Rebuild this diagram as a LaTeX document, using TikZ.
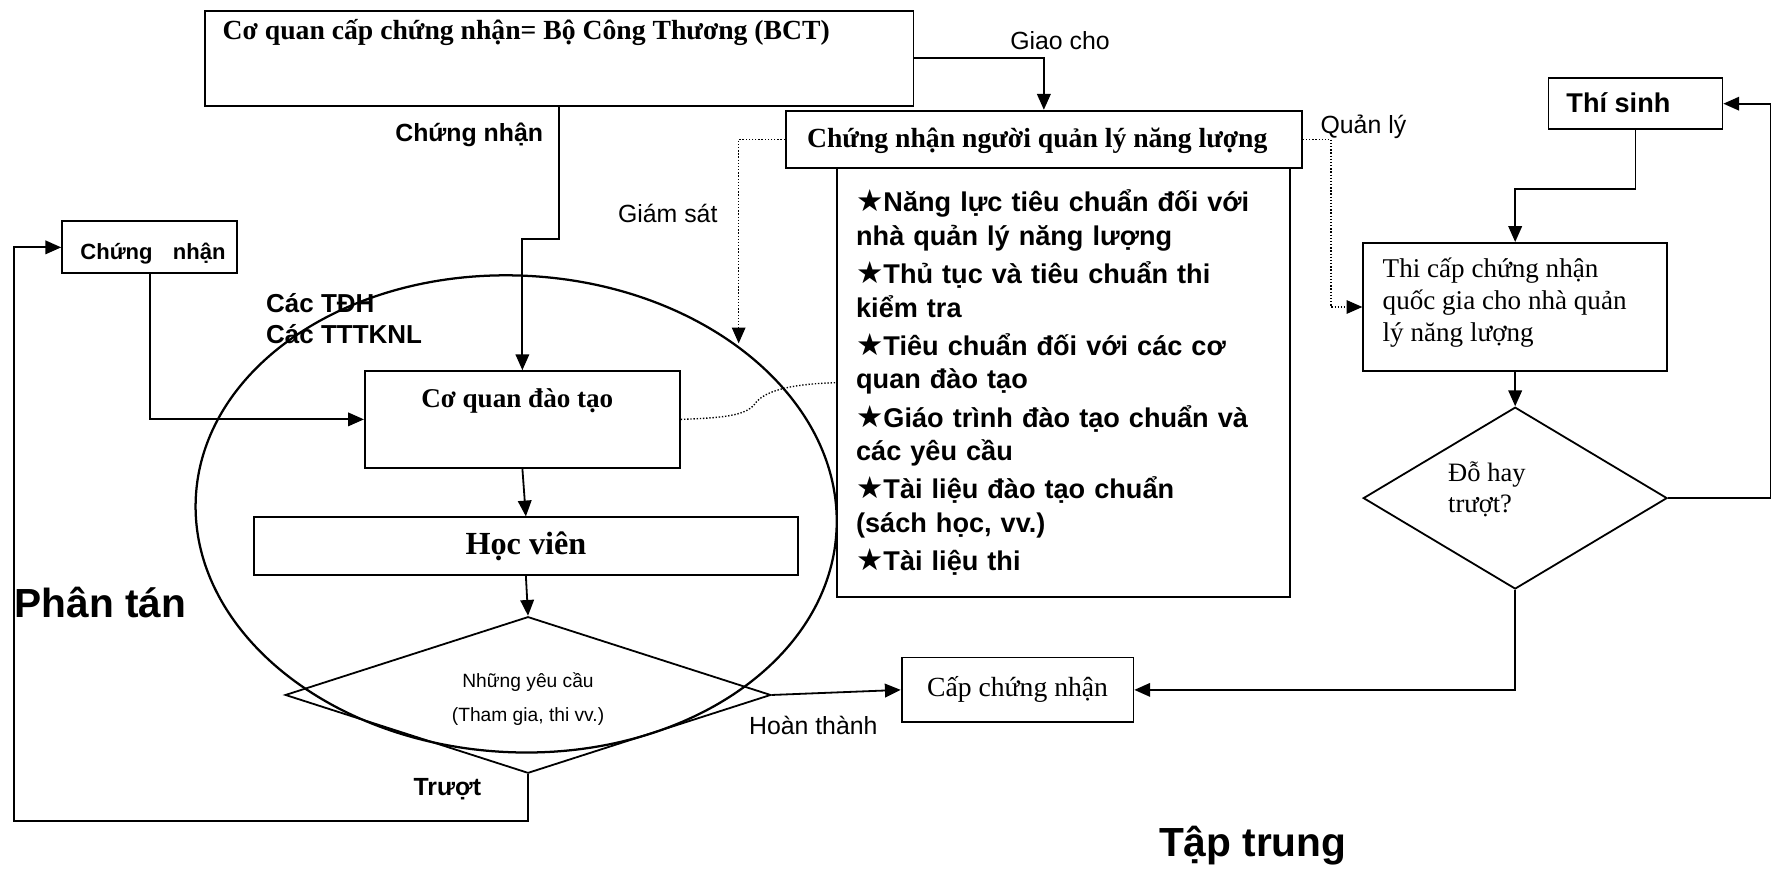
\documentclass[tikz,border=0pt]{standalone}
\usepackage{fontspec}
\setmainfont{Liberation Serif}
\setsansfont{Liberation Sans}
\newfontfamily\starfont{DejaVu Sans}
\usetikzlibrary{arrows.meta,shapes.geometric}
\newcommand{\bstar}{{\starfont\fontsize{27}{29.6}\selectfont ★}}
\begin{document}
\begin{tikzpicture}[x=1pt,y=-1pt,
    box/.style={draw,line width=1.6pt,inner sep=0pt},
    dmd/.style={draw,diamond,line width=1.6pt,inner sep=0pt},
    arr/.style={line width=1.6pt,-{Triangle[length=14pt,width=12pt]}},
    dotline/.style={line width=1.2pt,dash pattern=on 1.2pt off 1.6pt},
    dotarr/.style={dotline,-{Triangle[length=14pt,width=12pt]}},
    lbl/.style={font=\sffamily\fontsize{22}{26}\selectfont,inner sep=0pt},
    blbl/.style={font=\sffamily\bfseries\fontsize{22}{26}\selectfont,inner sep=0pt},
    big/.style={font=\sffamily\bfseries\fontsize{36}{40}\selectfont,inner sep=0pt}]
  \useasboundingbox (0,0) rectangle (1568,769);
  % the ministry and the certificate
  \node[box,minimum width=627.3,minimum height=84.3] (bct) at (495.2,51.7) {};
  \node[anchor=base west,inner sep=0pt,font=\bfseries\fontsize{24.5}{28}\selectfont] (bcttxt)
    at (197,35) {Cơ quan cấp chứng nhận= Bộ Công Thương (BCT)};
  \node[box,minimum width=456.9,minimum height=51] (cnql) at (924.2,123.5) {};
  \node[anchor=base,inner sep=0pt,font=\bfseries\fontsize{24.5}{28}\selectfont] (cnqltxt)
    at (918.4,131) {Chứng nhận người quản lý năng lượng};
  \node[box,minimum width=401,minimum height=379.6,text width=367,align=left,
    font=\sffamily\bfseries\fontsize{24}{29.6}\selectfont] (list) at (941.5,338.8)
    {\bstar Năng lực tiêu chuẩn đối với\\ nhà quản lý năng lượng\\[4.3pt]
     \bstar Thủ tục và tiêu chuẩn thi\\ kiểm tra\\[4.3pt]
     \bstar Tiêu chuẩn đối với các cơ\\ quan đào tạo\\[4.3pt]
     \bstar Giáo trình đào tạo chuẩn và\\ các yêu cầu\\[4.3pt]
     \bstar Tài liệu đào tạo chuẩn\\ (sách học, vv.)\\[4.3pt]
     \bstar Tài liệu thi};
  % the national exam (right)
  \node[box,minimum width=154,minimum height=45.5] (thisinh) at (1448,91.8) {};
  \node[anchor=base west,inner sep=0pt,font=\sffamily\bfseries\fontsize{24}{28}\selectfont] (thisinhtxt)
    at (1386.7,100) {Thí sinh};
  \node[box,minimum width=269,minimum height=113.5] (thi) at (1341.5,271.8) {};
  \node[anchor=base west,align=left,inner sep=0pt,font=\fontsize{24}{28.3}\selectfont] (thitxt)
    at (1224,302.6) {Thi cấp chứng nhận\\ quốc gia cho nhà quản\\ lý năng lượng};
  \node[dmd,minimum width=269,minimum height=161] (dohay) at (1341.5,441) {};
  \node[anchor=base west,align=left,inner sep=0pt,font=\fontsize{23.5}{27}\selectfont] (dohaytxt)
    at (1282,453.7) {Đỗ hay\\ trượt?};
  \node[box,minimum width=205.2,minimum height=57.5,font=\fontsize{24.5}{28}\selectfont]
    (cap) at (900.9,610.8) {Cấp chứng nhận};
  % the training side (left)
  \node[box,minimum width=155,minimum height=46] (cn) at (132.5,219) {};
  \node[anchor=base west,inner sep=0pt,font=\sffamily\bfseries\fontsize{19.5}{23}\selectfont] (cntxt)
    at (71,229.5) {Chứng\hspace{18pt}nhận};
  \draw[line width=2pt,rotate around={-3:(457,455)}] (457,455) ellipse [x radius=284,y radius=211];
  \node[box,minimum width=279,minimum height=85.5] (cqdt) at (462.5,371.3) {};
  \node[anchor=base,inner sep=0pt,font=\bfseries\fontsize{24}{28}\selectfont] (cqdttxt)
    at (458,361) {Cơ quan đào tạo};
  \node[box,minimum width=481.9,minimum height=51,font=\bfseries\fontsize{28.5}{32}\selectfont]
    (hv) at (465.6,483.5) {Học viên};
  \node[dmd,minimum width=430,minimum height=138.6] (yc) at (467.5,615.3) {};
  \node[anchor=base,align=center,inner sep=0pt,font=\sffamily\fontsize{17}{30}\selectfont] (yctxt)
    at (467.5,639) {Những yêu cầu\\ (Tham gia, thi vv.)};
  \coordinate (gsend) at (654,304);
  % labels
  \node[lbl,anchor=base] (giao) at (938.5,44) {Giao cho};
  \node[blbl,anchor=base east] (cnlbl) at (481,125) {Chứng nhận};
  \node[lbl,anchor=base west] (gslbl) at (547,197) {Giám sát};
  \node[lbl,anchor=base west] (qllbl) at (1169,118) {Quản lý};
  \node[anchor=base west,align=left,inner sep=0pt,font=\sffamily\bfseries\fontsize{23}{27.5}\selectfont]
    (tdh) at (235.5,304) {Các TĐH\\ Các TTTKNL};
  \node[lbl,anchor=base west] (htlbl) at (663,650) {Hoàn thành};
  \node[blbl,anchor=base west] (tlbl) at (366,704) {Trượt};
  \node[big,anchor=base west] (pt) at (12.7,547) {Phân tán};
  \node[big,anchor=base west] (tt) at (1026,758.5) {Tập trung};
  % connectors
  \draw[arr] (bct.east) -| (cnql.north);
  \draw[arr] (bct.south) -- ++(0,117) -| (cqdt.north);
  \draw[dotarr] (cnql.west) -| (gsend);
  \draw[dotarr] (cnql.east) -- ++(25,0) |- (thi.west);
  \draw[dotline] (cqdt.east) .. controls (640,370) and (660,368) .. (668,358)
    .. controls (676,346) and (700,340) .. (list.west);
  \draw[arr] (thisinh.south) -- ++(0,52) -| (thi.north);
  \draw[arr] (thi.south) -- (dohay.north);
  \draw[arr] (dohay.east) -- ++(90.7,0) |- (thisinh.east);
  \draw[arr] (dohay.south) |- (cap.east);
  \draw[arr] (yc.east) -- (cap.west);
  \draw[arr] (yc.south) |- (12.7,727) |- (cn.west);
  \draw[arr] (cn.south) |- (cqdt.west);
  \draw[arr] (cqdt.south) -- (hv.north);
  \draw[arr] (hv.south) -- (yc.north);
\end{tikzpicture}
\end{document}
